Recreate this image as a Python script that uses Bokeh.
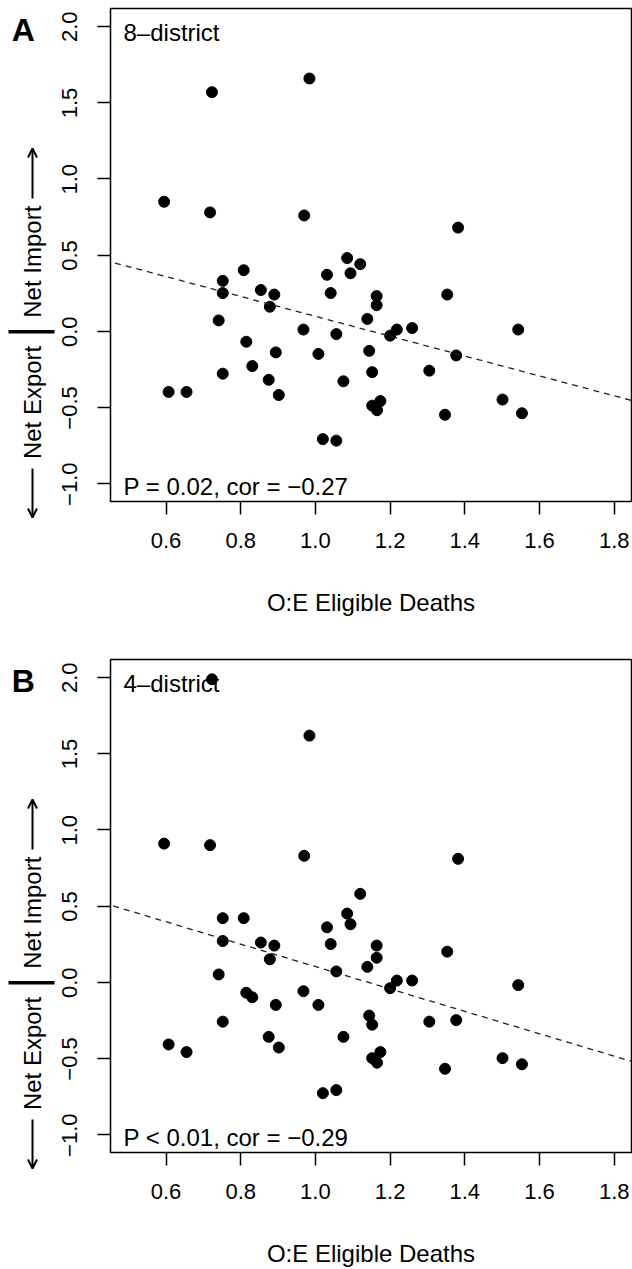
import math
from bokeh.plotting import figure
from bokeh.models import (Range1d, FixedTicker, Label, Slope, CustomJSTickFormatter,
                          Arrow, OpenHead)
from bokeh.layouts import column, row
from bokeh.core.properties import value
from bokeh.embed import file_html
from bokeh.resources import INLINE

# ---------------- data ----------------
oe_eligible_deaths = [0.595, 0.607, 0.655, 0.718, 0.723, 0.741, 0.752, 0.752, 0.752, 0.808,
                      0.815, 0.831, 0.854, 0.875, 0.878, 0.890, 0.894, 0.902, 0.968, 0.970,
                      0.984, 1.008, 1.020, 1.031, 1.041, 1.056, 1.056, 1.075, 1.085, 1.094,
                      1.120, 1.139, 1.144, 1.152, 1.152, 1.164, 1.164, 1.165, 1.174, 1.200,
                      1.218, 1.259, 1.305, 1.347, 1.353, 1.377, 1.382, 1.501, 1.543, 1.553]
net_flow_8_district = [0.85, -0.40, -0.40, 0.78, 1.57, 0.07, 0.33, 0.25, -0.28, 0.40,
                       -0.07, -0.23, 0.27, -0.32, 0.16, 0.24, -0.14, -0.42, 0.01, 0.76,
                       1.66, -0.15, -0.71, 0.37, 0.25, -0.02, -0.72, -0.33, 0.48, 0.38,
                       0.44, 0.08, -0.13, -0.27, -0.49, 0.23, 0.17, -0.52, -0.46, -0.03,
                       0.01, 0.02, -0.26, -0.55, 0.24, -0.16, 0.68, -0.45, 0.01, -0.54]
net_flow_4_district = [0.91, -0.41, -0.46, 0.90, 1.99, 0.05, 0.42, 0.27, -0.26, 0.42,
                       -0.07, -0.10, 0.26, -0.36, 0.15, 0.24, -0.15, -0.43, -0.06, 0.83,
                       1.62, -0.15, -0.73, 0.36, 0.25, 0.07, -0.71, -0.36, 0.45, 0.38,
                       0.58, 0.10, -0.22, -0.28, -0.50, 0.24, 0.16, -0.53, -0.46, -0.04,
                       0.01, 0.01, -0.26, -0.57, 0.20, -0.25, 0.81, -0.50, -0.02, -0.54]
fit_8_district = [0.75, -0.653]   # intercept, slope of the dashed line
fit_4_district = [0.838, -0.736]
x_ticks = [0.6, 0.8, 1.0, 1.2, 1.4, 1.6, 1.8]
y_ticks = [-1.0, -0.5, 0.0, 0.5, 1.0, 1.5, 2.0]
panel_letters = ["A", "B"]
panel_names = ["8\u2013district", "4\u2013district"]
panel_stats = ["P = 0.02, cor = \u22120.27", "P < 0.01, cor = \u22120.29"]
x_label = "O:E Eligible Deaths"
y_label_up = "Net Import"
y_label_down = "Net Export"

# ---------------- layout ----------------
FONT = "Liberation Sans"
X0, X1 = 0.4514, 1.8463
Y0, Y1 = -1.12, 2.12
LEFT_W = 90                # strip holding y tick labels, panel letter, y title
MAIN_W = 632 - LEFT_W
FL, FR = 20, 1             # main-figure borders -> frame 110..631
FH = 494
K = (Y1 - Y0) / FH         # data units per vertical pixel


def tick_text(t):
    return f"{t:.1f}".replace("-", "\u2212")


def make_panel(letter, name, yvals, fit, stats, top, bottom, xlab_standoff):
    H = top + FH + bottom
    p = figure(width=MAIN_W, height=H,
               x_range=Range1d(X0, X1), y_range=Range1d(Y0, Y1),
               output_backend="svg", toolbar_location=None,
               min_border_left=FL, min_border_right=FR,
               min_border_top=top, min_border_bottom=bottom)
    p.grid.visible = False
    p.outline_line_color = "black"
    p.outline_line_width = 1.5
    p.background_fill_color = "white"
    p.border_fill_color = "white"

    fmt = CustomJSTickFormatter(code="return tick.toFixed(1).replace('-', '\\u2212');")
    for ax, ticks in ((p.xaxis, x_ticks), (p.yaxis, y_ticks)):
        ax.ticker = FixedTicker(ticks=ticks)
        ax.formatter = fmt
        ax.axis_line_color = None
        ax.major_tick_line_color = "black"
        ax.major_tick_line_width = 1.5
        ax.major_tick_out = 13
        ax.major_tick_in = 0
        ax.minor_tick_line_color = None
        ax.major_label_text_font = FONT
        ax.major_label_text_color = "black"
    p.xaxis.major_label_text_font_size = "22px"
    p.xaxis.major_label_standoff = 18
    # y tick labels are drawn in the left strip (same y scale)
    p.yaxis.major_label_text_font_size = "1px"
    p.yaxis.major_label_text_color = None
    p.yaxis.major_label_standoff = 0
    p.xaxis.axis_label = x_label
    p.xaxis.axis_label_text_font = FONT
    p.xaxis.axis_label_text_font_size = "24px"
    p.xaxis.axis_label_text_font_style = "normal"
    p.xaxis.axis_label_text_color = "black"
    p.xaxis.axis_label_standoff = xlab_standoff

    p.add_layout(Slope(gradient=fit[1], y_intercept=fit[0], line_color="#222222",
                       line_width=1.3, line_dash="6 5"))
    p.scatter(oe_eligible_deaths, yvals, size=11, color="black")

    px_x = (X1 - X0) / (MAIN_W - FL - FR)
    for x, y, text in ((X0 + 13 * px_x, Y1 - 24 * K, name),
                       (X0 + 13 * px_x, Y0 + 15 * K, stats)):
        p.add_layout(Label(x=x, y=y, text=text, text_font=FONT, text_font_size="24px",
                           text_color="black", text_align="left",
                           text_baseline="alphabetic"))

    # ---- left strip: x in pixels, y in the same data units as the panel ----
    L = figure(width=LEFT_W, height=H, x_range=Range1d(0, LEFT_W),
               y_range=Range1d(Y0 - bottom * K, Y1 + top * K),
               output_backend="svg", toolbar_location=None,
               x_axis_location=None, y_axis_location=None, min_border=0)
    L.outline_line_color = None
    L.grid.visible = False
    L.background_fill_color = "white"
    L.border_fill_color = "white"
    tf = dict(text_font=value(FONT), text_color="black", text_baseline="alphabetic")

    L.text(x=[69] * len(y_ticks), y=y_ticks, text=[tick_text(t) for t in y_ticks],
           angle=math.pi / 2, text_align="center", text_font_size="22px", **tf)
    L.text(x=[22.7], y=[Y1 - 21.5 * K], text=[letter], text_align="center",
           text_font_size="32px", text_font_style="bold", **tf)
    L.text(x=[31.5], y=[0.0 + 14 * K], text=[y_label_up], angle=math.pi / 2,
           text_align="left", text_font_size="24px", **tf)
    L.text(x=[31.5], y=[0.0 - 14 * K], text=[y_label_down], angle=math.pi / 2,
           text_align="right", text_font_size="24px", **tf)
    # separator bar between the two words
    L.segment(x0=[8], x1=[54], y0=[0.0], y1=[0.0], line_color="black", line_width=3.5)
    # direction arrows
    L.add_layout(Arrow(x_start=32, y_start=Y1 - 190 * K, x_end=32, y_end=Y1 - 140 * K,
                       line_width=2, line_color="black",
                       end=OpenHead(size=9, line_width=2, line_color="black")))
    L.add_layout(Arrow(x_start=32, y_start=Y1 - 460 * K, x_end=32, y_end=Y1 - 509 * K,
                       line_width=2, line_color="black",
                       end=OpenHead(size=9, line_width=2, line_color="black")))
    return L, p


LA, MA = make_panel(panel_letters[0], panel_names[0], net_flow_8_district,
                    fit_8_district, panel_stats[0], top=8, bottom=116, xlab_standoff=38)
LB, MB = make_panel(panel_letters[1], panel_names[1], net_flow_4_district,
                    fit_4_district, panel_stats[1], top=41, bottom=116, xlab_standoff=38)

layout = row(column(LA, LB), column(MA, MB))
open("out.html", "w").write(file_html(layout, INLINE))
